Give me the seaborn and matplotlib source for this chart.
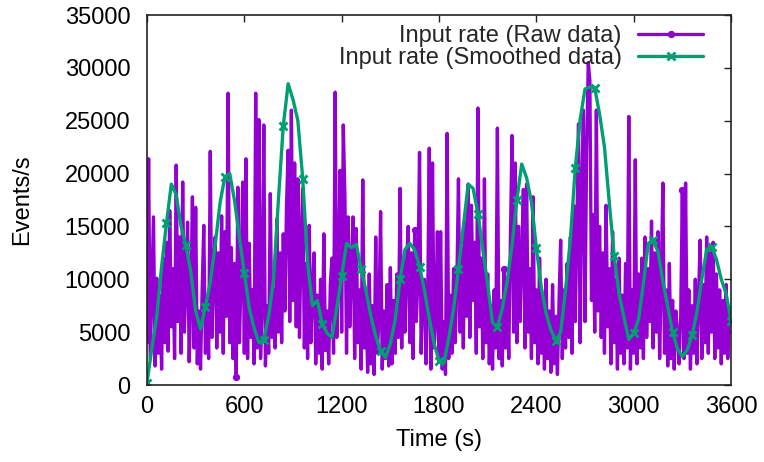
import numpy as np
import pandas as pd
import matplotlib
matplotlib.use("Agg")
import matplotlib.pyplot as plt
import seaborn as sns

# ---------------- data ----------------
raw_step = 10      # seconds between raw samples
smooth_step = 30   # seconds between smoothed samples

raw_rate = [
    4300, 21400, 2500, 9000, 15900, 1800, 10100, 3000, 8500, 1500,
    12000, 4000, 13500, 3200, 16500, 5500, 11000, 2500, 20800, 6000,
    14000, 3000, 19200, 5000, 9500, 15400, 2200, 8000, 17800, 3500,
    16800, 2000, 7000, 1500, 9000, 15100, 3000, 8000, 2500, 22100,
    4500, 11000, 14000, 3500, 12500, 5000, 16000, 3000, 14500, 6500,
    27600, 4000, 13000, 2500, 11500, 800, 18700, 4000, 10500, 19200,
    3000, 21400, 2500, 13400, 4500, 9000, 2000, 27600, 3500, 25100,
    2500, 8000, 24600, 1800, 7500, 3000, 18100, 4500, 9000, 3500,
    15700, 5000, 12500, 4000, 14300, 7000, 17000, 22200, 6000, 26000,
    8000, 21000, 5500, 19500, 4500, 14000, 18600, 3500, 11500, 2500,
    15100, 4000, 9000, 12500, 2000, 8500, 3000, 10000, 1500, 14300,
    3500, 7000, 2000, 9500, 12000, 3000, 27700, 4500, 10000, 20300,
    5000, 24600, 17800, 3000, 15900, 5500, 11000, 15900, 2500, 14800,
    4000, 9000, 1500, 19400, 3500, 8500, 1200, 10500, 2000, 7500,
    1000, 14000, 3000, 6500, 16400, 1500, 7000, 2500, 9500, 1800,
    11100, 2000, 8000, 3000, 10500, 4500, 18600, 3500, 12000, 5000,
    11500, 15000, 4000, 12500, 2500, 14700, 6000, 10000, 22000, 3000,
    9000, 10000, 2000, 7500, 22400, 1500, 21000, 3500, 6000, 14500,
    2500, 14500, 1500, 6000, 1000, 23800, 2500, 8500, 3000, 11000,
    4000, 9500, 19500, 5000, 13000, 3500, 15500, 6500, 19000, 4500,
    17000, 8000, 13500, 3000, 26200, 5500, 12000, 2500, 19500, 4000,
    10500, 2000, 7500, 1500, 9000, 3500, 24300, 2500, 8000, 1800,
    11000, 3500, 9500, 2500, 13500, 23600, 5000, 21000, 4000, 15000,
    6000, 12500, 18500, 3500, 19000, 5000, 11000, 2500, 17800, 4000,
    9000, 2000, 12000, 3000, 8500, 1500, 10000, 2500, 7000, 1200,
    9500, 2000, 6500, 1000, 8000, 13700, 2500, 9000, 3500, 11500,
    4500, 14000, 3000, 17000, 6000, 15000, 24700, 4000, 18000, 26000,
    6000, 22000, 30500, 28800, 8000, 16000, 5000, 26000, 7000, 15000,
    4500, 12500, 3000, 17000, 5500, 11000, 2000, 14500, 4000, 10000,
    1500, 12000, 3000, 8500, 2000, 11500, 3500, 25400, 1500, 9000,
    3000, 21300, 2000, 10500, 3500, 12000, 2500, 14000, 4500, 11000,
    6000, 15500, 3500, 12500, 5000, 14500, 2500, 10000, 19100, 3000,
    9000, 1800, 11500, 2500, 8000, 1500, 7000, 5000, 2000, 6500,
    18400, 2500, 19100, 3000, 9000, 1500, 7500, 3000, 10000, 2000,
    8500, 13700, 2500, 9500, 4000, 14000, 3000, 12500, 5000, 13500,
    2500, 10500, 3500, 9000, 2000, 8000, 3000, 9500, 2500, 7000,
    6300,
]

smooth_rate = [
    200, 3500, 6500, 11200, 15300, 19000, 18000, 15000, 13200, 10700,
    7000, 5300, 7400, 9700, 13200, 17200, 19700, 20000, 17400, 13900,
    10600, 7300, 5400, 4000, 4300, 6500, 10000, 17500, 24500, 28500,
    27000, 25000, 19500, 11500, 7500, 8000, 5800, 4900, 4500, 7300,
    10300, 13400, 13000, 13300, 11000, 8900, 6500, 4600, 3200, 2600,
    3900, 6200, 10000, 12800, 13400, 12800, 11200, 9000, 6300, 3900,
    2300, 2100, 4400, 7200, 11000, 15000, 19000, 18600, 16200, 12800,
    9500, 5900, 5500, 7200, 9800, 13200, 17500, 20900, 19600, 17300,
    13000, 9300, 6800, 5200, 4200, 5000, 9000, 13800, 20500, 25100,
    28000, 28200, 28100, 25600, 22500, 17200, 12200, 8600, 6400, 4300,
    4900, 6200, 9600, 13400, 13700, 12600, 9800, 7400, 5000, 3400,
    2700, 3300, 4700, 6900, 10000, 12800, 13100, 11900, 10000, 8600,
    6100,
]

raw_label = "Input rate (Raw data)"
smooth_label = "Input rate (Smoothed data)"
x_ticks = [0, 600, 1200, 1800, 2400, 3000, 3600]
y_ticks = [0, 5000, 10000, 15000, 20000, 25000, 30000, 35000]

raw_df = pd.DataFrame({"time": np.arange(len(raw_rate)) * raw_step, "rate": raw_rate})
smooth_df = pd.DataFrame({"time": np.arange(len(smooth_rate)) * smooth_step, "rate": smooth_rate})

# ---------------- style ----------------
sns.set_style("white")
plt.rcParams["font.family"] = ["Liberation Sans", "DejaVu Sans"]

PURPLE = "#9400D3"
GREEN = "#009E73"
FS = 17

fig = plt.figure(figsize=(7.64, 4.62), dpi=100)
ax = fig.add_axes([147 / 764, 1 - 385 / 462, 584 / 764, 370 / 462])

sns.lineplot(data=raw_df, x="time", y="rate", ax=ax, color=PURPLE, lw=2.4,
             marker="o", ms=4.5, mec=PURPLE, mfc=PURPLE, markevery=55, label=raw_label)
sns.lineplot(data=smooth_df, x="time", y="rate", ax=ax, color=GREEN, lw=2.4,
             marker="x", ms=6, mew=2, mec=GREEN, markevery=4, label=smooth_label)

ax.set_xlim(0, 3600)
ax.set_ylim(0, 35000)
ax.set_xticks(x_ticks)
ax.set_yticks(y_ticks)
ax.set_xticklabels([str(v) for v in x_ticks])
ax.set_yticklabels([str(v) for v in y_ticks])

for s in ax.spines.values():
    s.set_visible(True)
    s.set_color("#222222")
    s.set_linewidth(1.2)
    s.set_zorder(5)

ax.tick_params(axis="both", direction="in", top=True, right=True,
               length=5, width=1, color="#222222", labelsize=FS, labelcolor="black")
ax.tick_params(axis="x", pad=8)
ax.tick_params(axis="y", pad=12)

ax.set_xlabel("Time (s)", fontsize=FS, color="black")
ax.set_ylabel("Events/s", fontsize=FS, color="black")
ax.xaxis.set_label_coords(0.5, -0.12)
ax.yaxis.set_label_coords(-0.195, 0.5)

ax.legend(loc="upper right", bbox_to_anchor=(0.952, 0.972), frameon=False,
          markerfirst=False, fontsize=FS, handlelength=2.75, handletextpad=0.7,
          labelspacing=0.0, borderpad=0, borderaxespad=0)

fig.savefig("out.png", dpi=100, facecolor="white")
